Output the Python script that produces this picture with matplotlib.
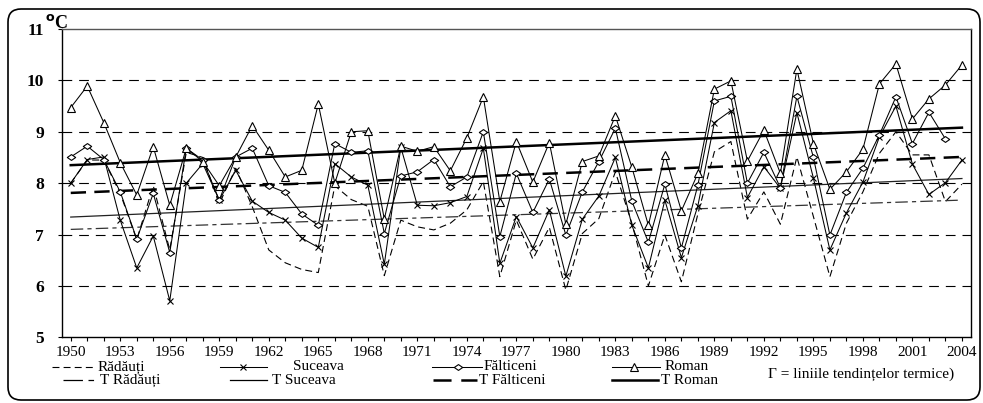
import matplotlib
matplotlib.use("Agg")
import matplotlib.pyplot as plt
from matplotlib.lines import Line2D
from matplotlib.patches import FancyBboxPatch
from matplotlib.path import Path
import numpy as np

plt.rcParams["font.family"] = ["Liberation Serif", "DejaVu Serif"]
plt.rcParams["lines.scale_dashes"] = False

years = np.arange(1950, 2005)

radauti = [8.00, 8.45, 8.45, 7.80, 6.90, 7.95, 6.70, 8.60, 8.50, 7.60,
           8.29, 7.54, 6.70, 6.45, 6.32, 6.26, 7.95, 7.68, 7.55, 6.20,
           7.28, 7.15, 7.09, 7.22, 7.48, 8.03, 6.18, 7.28, 6.52, 7.14,
           5.92, 7.02, 7.31, 8.22, 7.22, 6.00, 6.99, 6.08, 7.40, 8.61,
           8.81, 7.30, 7.83, 7.20, 8.51, 7.35, 6.18, 7.22, 7.83, 8.58,
           9.00, 8.55, 8.55, 7.64, 7.98]
suceava = [8.00, 8.46, 8.51, 7.28, 6.35, 6.97, 5.71, 8.00, 8.38, 7.67,
           8.25, 7.65, 7.43, 7.28, 6.93, 6.75, 8.38, 8.12, 7.96, 6.42,
           8.70, 7.57, 7.56, 7.62, 7.74, 8.68, 6.44, 7.35, 6.74, 7.48,
           6.19, 7.30, 7.75, 8.50, 7.18, 6.35, 7.67, 6.55, 7.56, 9.18,
           9.41, 7.72, 8.32, 7.90, 9.37, 8.10, 6.70, 7.42, 8.02, 8.90,
           9.50, 8.37, 7.78, 8.01, 8.45]
falticeni = [8.51, 8.72, 8.46, 7.83, 6.91, 7.80, 6.65, 8.68, 8.45, 7.67,
             8.51, 8.68, 7.95, 7.82, 7.40, 7.18, 8.77, 8.60, 8.63, 7.02,
             8.14, 8.22, 8.46, 7.93, 8.12, 9.00, 6.96, 8.19, 7.43, 8.08,
             6.99, 7.83, 8.42, 9.07, 7.65, 6.85, 7.98, 6.74, 7.96, 9.60,
             9.69, 8.00, 8.60, 7.91, 9.69, 8.50, 6.99, 7.82, 8.29, 8.94,
             9.68, 8.77, 9.38, 8.86]
roman = [9.47, 9.89, 9.18, 8.40, 7.77, 8.71, 7.57, 8.68, 8.42, 7.95,
         8.51, 9.12, 8.64, 8.12, 8.25, 9.54, 8.00, 9.00, 9.02, 7.30,
         8.72, 8.62, 8.71, 8.24, 8.88, 9.68, 7.64, 8.81, 8.02, 8.79,
         7.20, 8.42, 8.53, 9.31, 8.31, 7.18, 8.55, 7.46, 8.19, 9.83,
         9.99, 8.43, 9.03, 8.19, 10.22, 8.77, 7.88, 8.22, 8.66, 9.93,
         10.32, 9.25, 9.64, 9.91, 10.30]

# trend lines (value at 1950, value at 2004)
trend_years = [1950, 2004]
t_radauti = [7.10, 7.67]
t_suceava = [7.34, 8.09]
t_falticeni = [7.81, 8.51]
t_roman = [8.35, 9.08]

W, H = 983, 403
fig = plt.figure(figsize=(W / 100, H / 100), dpi=100)
ax = fig.add_axes([62 / W, 1 - 337.3 / H, (971 - 62) / W, (337.3 - 29) / H])

# flattened diamond
diamond = Path([(-1, 0), (0, 0.7), (1, 0), (0, -0.7), (-1, 0)],
               [Path.MOVETO, Path.LINETO, Path.LINETO, Path.LINETO, Path.CLOSEPOLY])

dash_r = (0, (5, 3))
dash_tr = (0, (9, 3, 3, 3))
dash_tf = (0, (11, 6))

for v in [6, 7, 8, 9, 10]:
    ax.axhline(v, color="black", lw=0.8, linestyle=(0, (7, 5)), zorder=0)

ax.plot(years, radauti, color="black", lw=0.8, linestyle=dash_r, zorder=2)
ax.plot(years, suceava, color="black", lw=0.75, marker="x", ms=4.5, mew=0.8, zorder=3)
ax.plot(years[:len(falticeni)], falticeni, color="black", lw=0.75, marker=diamond,
        ms=6, mfc="white", mew=0.8, zorder=3)
ax.plot(years, roman, color="black", lw=0.75, marker="^", ms=5.5, mfc="white",
        mew=0.8, zorder=3)

ax.plot(trend_years, t_radauti, color="#333333", lw=0.9, linestyle=dash_tr, zorder=2)
ax.plot(trend_years, t_suceava, color="#222222", lw=0.9, zorder=2)
ax.plot(trend_years, t_falticeni, color="black", lw=1.8, linestyle=dash_tf, zorder=2)
ax.plot(trend_years, t_roman, color="black", lw=1.8, zorder=2)

ax.set_xlim(1949.47, 2004.55)
ax.set_ylim(5, 11)
ax.set_xticks(np.arange(1950, 2005, 3))
ax.set_xticks(np.arange(1950, 2005, 1), minor=True)
ax.set_yticks(np.arange(5, 12, 1))
ax.tick_params(axis="x", which="both", direction="out", length=3, width=0.8,
               pad=3, labelsize=11)
ax.tick_params(axis="y", direction="out", length=3, width=0.8, pad=10,
               labelsize=12.5)
for lab in ax.get_yticklabels():
    lab.set_fontweight("bold")
for side in ["left", "bottom", "right"]:
    ax.spines[side].set_linewidth(1.0)
ax.spines["top"].set_color("#555555")
ax.spines["top"].set_linewidth(1.0)

fig.text(45 / W, 1 - 23 / H, "$^{\\mathbf{o}}$C", fontsize=13, fontweight="bold",
         ha="left", va="center")


def px(x, y):
    return x / W, 1 - y / H


def handle(x0, x1, y, **kw):
    (a, b), (c, _) = px(x0, y), px(x1, y)
    fig.add_artist(Line2D([a, c], [b, b], color="black", transform=fig.transFigure, **kw))


def marker(x, y, **kw):
    a, b = px(x, y)
    fig.add_artist(Line2D([a], [b], color="black", transform=fig.transFigure,
                          linestyle="none", **kw))


r1, r2 = 367, 380
handle(52, 95, r1, lw=0.8, linestyle=dash_r)
handle(220, 267, r1, lw=0.75)
marker(243, r1, marker="x", ms=4.5, mew=0.8)
handle(432, 482, r1, lw=0.75)
marker(458, r1, marker=diamond, ms=6, mfc="white", mew=0.8)
handle(612, 660, r1, lw=0.75)
marker(634, r1, marker="^", ms=5.5, mfc="white", mew=0.8)

handle(63, 97, r2, lw=0.9, linestyle=(0, (14, 4, 4, 4)))
handle(230, 267, r2, lw=0.9)
handle(433, 477, r2, lw=1.8, linestyle=(0, (13, 7)))
handle(612, 658, r2, lw=1.8)

labels_r1 = [(98, "Rădăuți"), (293, "Suceava"), (484, "Fălticeni"), (665, "Roman")]
labels_r2 = [(100, "T Rădăuți"), (272, "T Suceava"), (479, "T Fălticeni"), (661, "T Roman")]
for x, t in labels_r1:
    a, b = px(x, r1)
    fig.text(a, b, t, fontsize=11, ha="left", va="center")
for x, t in labels_r2:
    a, b = px(x, r2)
    fig.text(a, b, t, fontsize=11, ha="left", va="center")
a, b = px(768, 374)
fig.text(a, b, "Γ = liniile tendințelor termice)", fontsize=11, ha="left", va="center")

border = FancyBboxPatch((0.08, 0.03), 9.72, 3.91, boxstyle="round,pad=0,rounding_size=0.13",
                        transform=fig.dpi_scale_trans, fill=False, lw=1.2, ec="black")
fig.add_artist(border)

fig.savefig("out.png", dpi=100)
